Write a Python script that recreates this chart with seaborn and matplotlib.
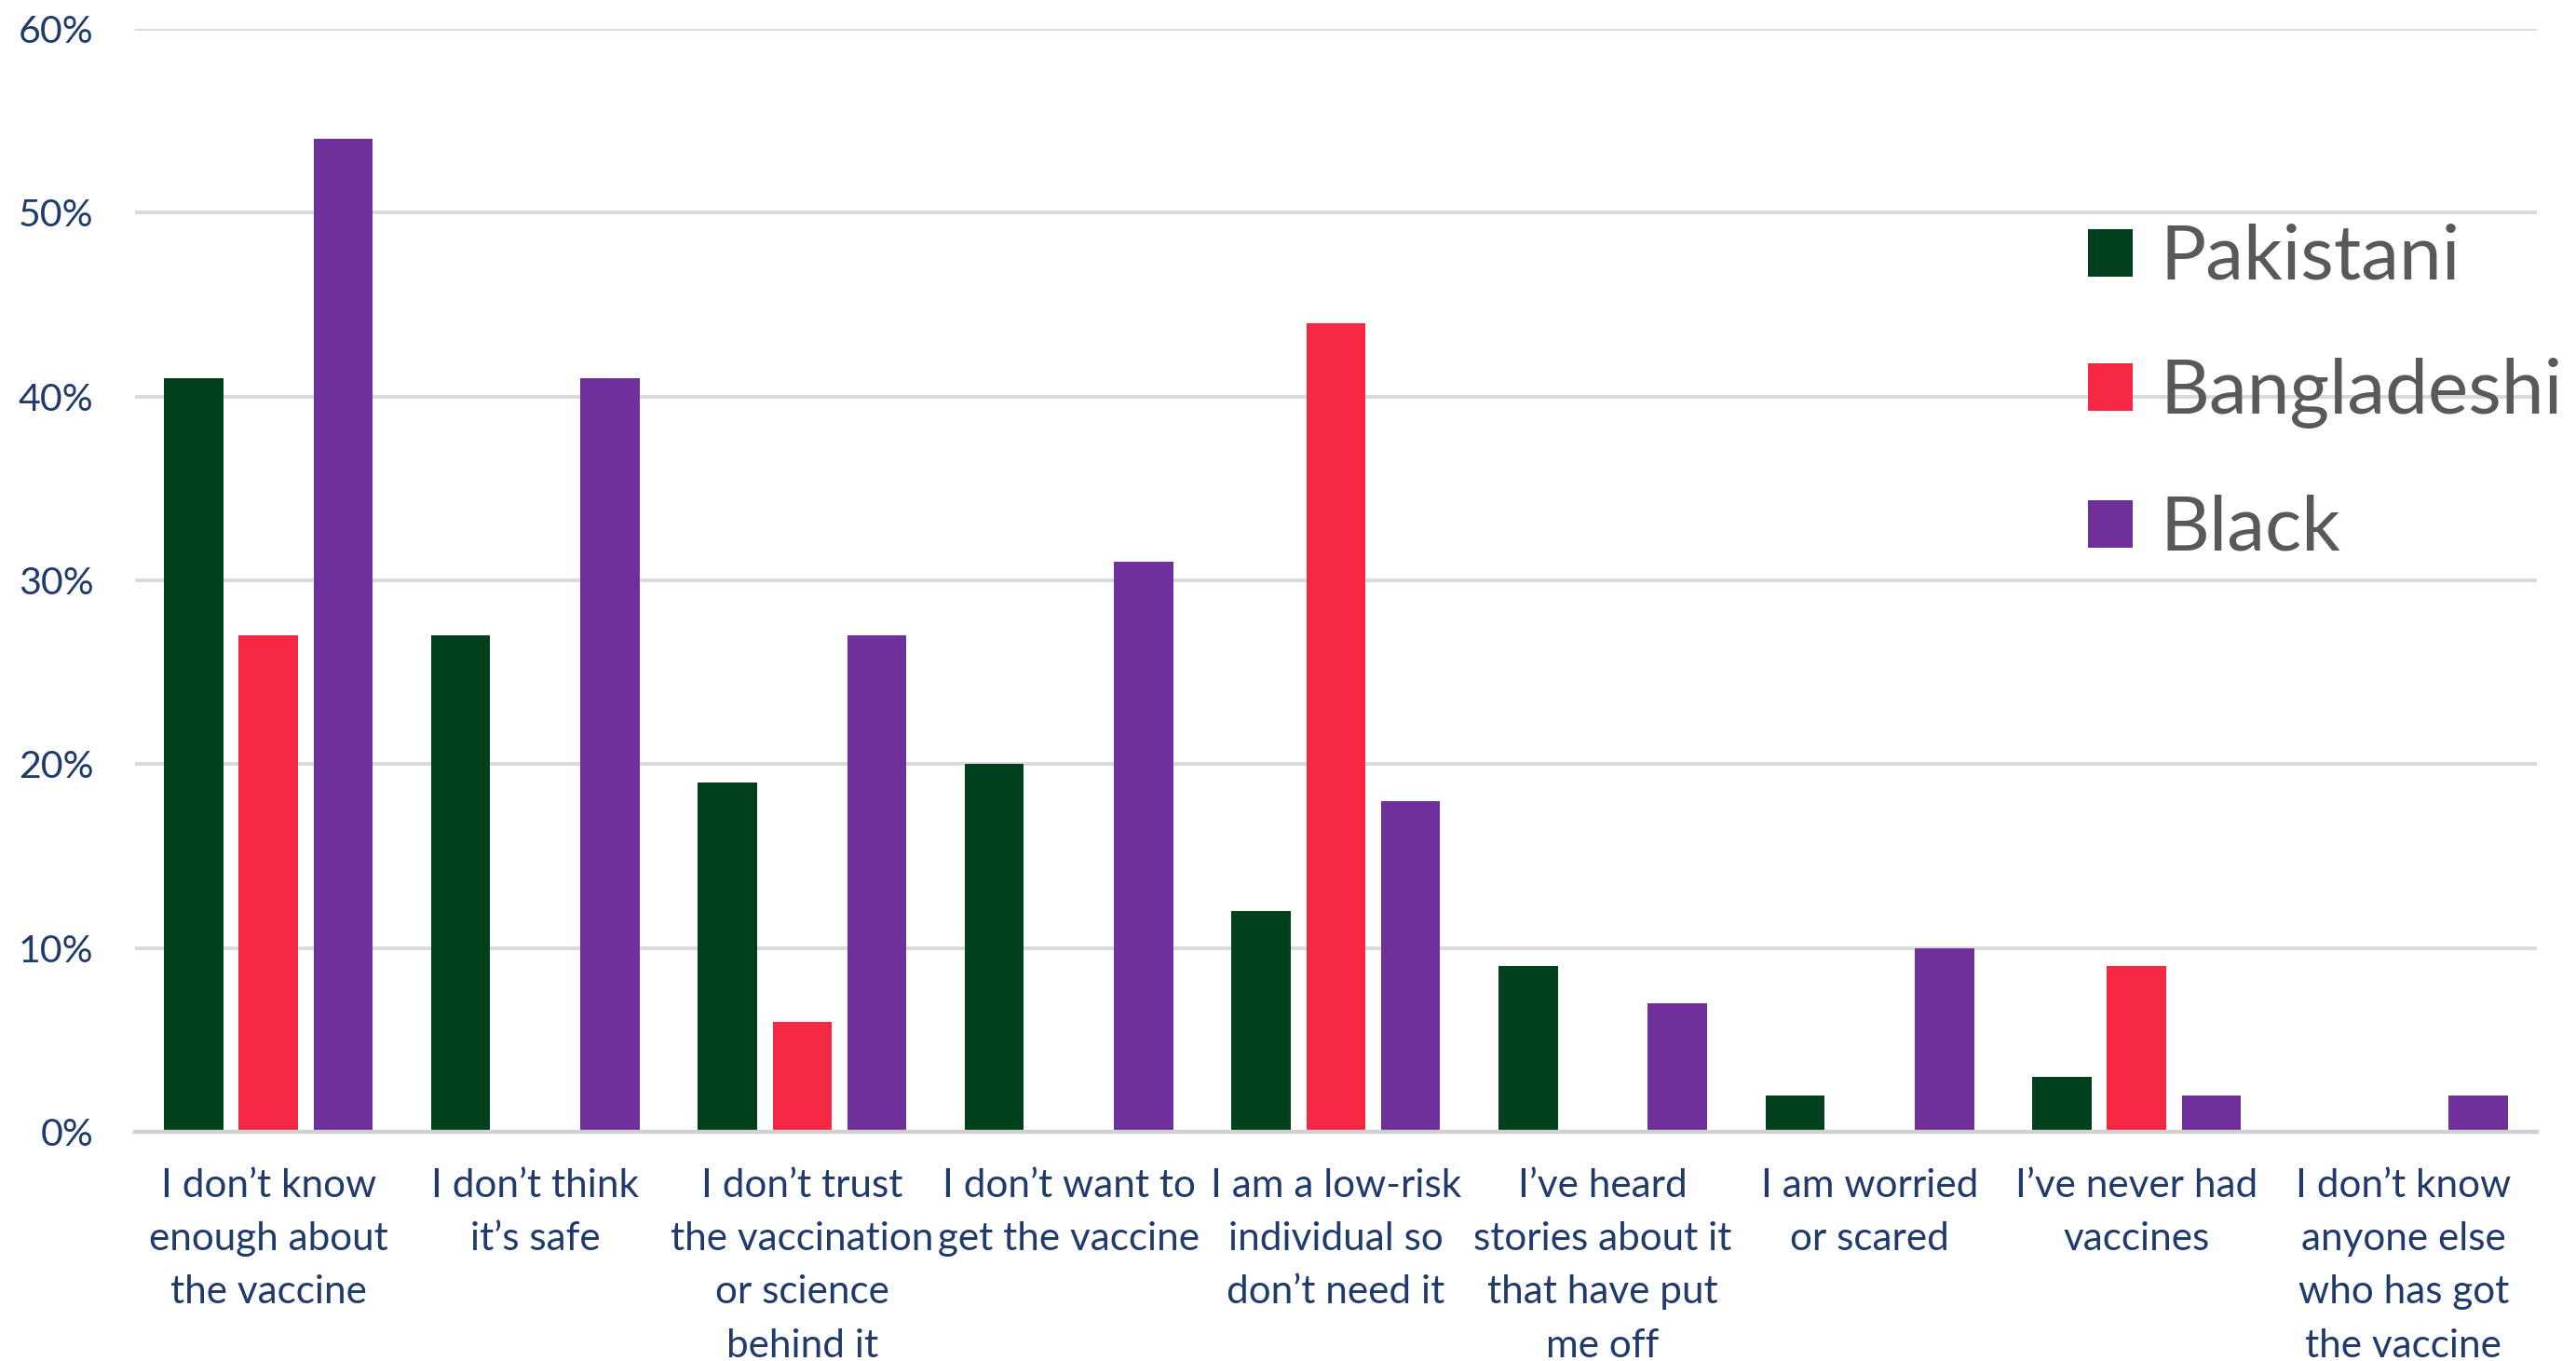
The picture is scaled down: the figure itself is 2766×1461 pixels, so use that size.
import matplotlib
matplotlib.use("Agg")
import matplotlib.pyplot as plt
import seaborn as sns
import pandas as pd
from matplotlib.ticker import PercentFormatter

# Reasons given for not wanting the vaccine, by ethnic group (share of respondents)
categories = [
    "I don’t know\nenough about\nthe vaccine",
    "I don’t think\nit’s safe",
    "I don’t trust\nthe vaccination\nor science\nbehind it",
    "I don’t want to\nget the vaccine",
    "I am a low-risk\nindividual so\ndon’t need it",
    "I’ve heard\nstories about it\nthat have put\nme off",
    "I am worried\nor scared",
    "I’ve never had\nvaccines",
    "I don’t know\nanyone else\nwho has got\nthe vaccine",
]
groups = ["Pakistani", "Bangladeshi", "Black"]
pakistani = [0.41, 0.27, 0.19, 0.20, 0.12, 0.09, 0.02, 0.03, 0.00]
bangladeshi = [0.27, 0.00, 0.06, 0.00, 0.44, 0.00, 0.00, 0.09, 0.00]
black = [0.54, 0.41, 0.27, 0.31, 0.18, 0.07, 0.10, 0.02, 0.02]
colors = ["#00401D", "#F42842", "#70309C"]
yticks = [0.0, 0.1, 0.2, 0.3, 0.4, 0.5, 0.6]

df = pd.DataFrame({
    "reason": categories * 3,
    "group": [g for g in groups for _ in categories],
    "share": pakistani + bangladeshi + black,
})

sns.set_theme(style="white")
plt.rcParams["font.family"] = ["Lato", "DejaVu Sans"]

navy = "#1F3A6B"
fig = plt.figure(figsize=(13.83, 7.305), dpi=200)
ax = fig.add_axes([0.0524, 0.1684, 0.9324, 0.8104])

sns.barplot(data=df, x="reason", y="share", hue="group", hue_order=groups,
            palette=colors, saturation=1, width=0.84, gap=0.207,
            linewidth=0, errorbar=None, ax=ax)

ax.set_xlim(-0.5, len(categories) - 0.5)
ax.set_ylim(0, 0.6)
ax.set_yticks(yticks)
ax.yaxis.set_major_formatter(PercentFormatter(1.0, decimals=0))
ax.grid(axis="y", color="#D9D9D9", linewidth=1.4)
ax.set_axisbelow(True)
for side in ["top", "right", "left"]:
    ax.spines[side].set_visible(False)
ax.spines["bottom"].set_color("#D0D0D0")
ax.spines["bottom"].set_linewidth(1.6)
ax.set_xlabel("")
ax.set_ylabel("")
ax.tick_params(axis="y", length=0, pad=16, labelsize=14.8, labelcolor=navy)
ax.tick_params(axis="x", length=0, pad=14, labelsize=15.2, labelcolor=navy)
for lab in ax.get_xticklabels():
    lab.set_linespacing(1.62)
    lab.set_verticalalignment("top")
    lab.set_horizontalalignment("center")

handles, labels = ax.get_legend_handles_labels()
ax.legend(handles, labels, loc="upper left",
          bbox_to_anchor=(2242 / 2766, 1 - 240 / 1461),
          bbox_transform=fig.transFigure, frameon=False, fontsize=29.5,
          labelcolor="#595959", handlelength=0.58, handleheight=0.58,
          handletextpad=0.36, labelspacing=0.86, borderpad=0,
          borderaxespad=0)

fig.savefig("out.png", dpi=200)
